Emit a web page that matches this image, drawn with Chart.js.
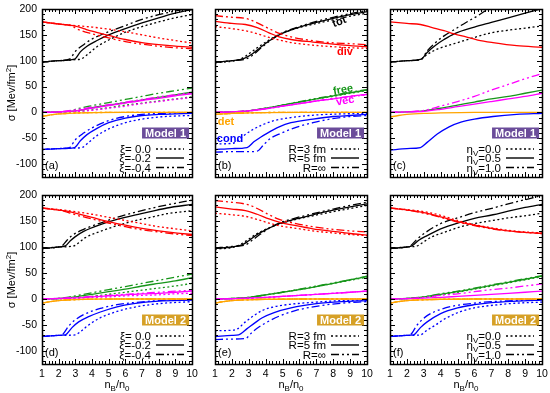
<!DOCTYPE html>
<html>
<head>
<title>Surface tension contributions</title>
<script src="https://cdn.jsdelivr.net/npm/chart.js"></script>
<style>
  body { margin: 0; background: #fff; font-family: "Liberation Sans", Arial, sans-serif; }
  #page { position: relative; width: 550px; height: 393px; overflow: hidden; }
  canvas { position: absolute; }
  .t { position: absolute; white-space: nowrap; font-size: 11px; line-height: 12px; color: #000; }
  .t sub { font-size: 8px; line-height: 0; vertical-align: -3px; }
  .t sup { font-size: 8px; line-height: 0; vertical-align: 4px; }
</style>
</head>
<body>
<div id="page"></div>
<script>
// axis ticks
const xTicks = [1, 2, 3, 4, 5, 6, 7, 8, 9, 10];
const yTicks = [-100, -50, 0, 50, 100, 150, 200];

// legend labels
const xiLabels = ['ξ= 0.0', 'ξ=-0.2', 'ξ=-0.4'];
const rLabels = ['R=3 fm', 'R=5 fm', 'R=∞'];
const etaLabels = ['η<sub>V</sub>=0.0', 'η<sub>V</sub>=0.5', 'η<sub>V</sub>=1.0'];

// each quantity: [dotted, solid, dash-dot-dot] lists of [nB/n0, sigma]
// (a) Model 1, xi
const aTot = [
  [[1,97],[2,100],[3,102],[3.4,104],[3.8,114],[4.3,127],[5,140],[6,155],[7,166],[8,175],[9,183],[10,189]],
  [[1,97],[2,100],[2.95,103],[3.3,117],[3.7,128],[4.3,139],[5,150],[6,162],[7,173],[8,183],[9,192],[10,199]],
  [[1,97],[2,100],[2.65,103],[3,118],[3.5,131],[4,142],[5,156],[6,168],[7,180],[8,189],[9,196],[10,202]]
];
const aDiv = [
  [[1,175],[2,171],[3,168],[4,165],[5,161],[6,156],[7,150],[8,144],[9,139],[10,134]],
  [[1,175],[2,171],[3,167],[3.5,162],[4,157],[5,149],[6,141],[7,135],[8,131],[9,128],[10,126]],
  [[1,175],[2,171],[2.7,168],[3.2,160],[4,152],[5,144],[6,137],[7,132],[8,128],[9,125],[10,123]]
];
const aFree = [
  [[1,0],[2,0.5],[3,1.5],[3.5,3],[4,5],[5,9],[6,14],[7,18],[8,22],[9,26],[10,30]],
  [[1,0],[2,1],[3,3],[4,9],[5,14],[6,19],[7,24],[8,29],[9,34],[10,39]],
  [[1,0],[2,1],[2.7,3],[3,6],[4,13],[5,19],[6,25],[7,31],[8,37],[9,42],[10,47]]
];
const aVec = [
  [[1,0],[2,0.5],[3,1.5],[4,4],[5,8],[6,12],[7,17],[8,21],[9,25],[10,29]],
  [[1,0],[2,1],[3,3],[4,8],[5,13],[6,18],[7,23],[8,27],[9,32],[10,36]],
  [[1,0],[2,1],[3,5],[4,10],[5,15],[6,20],[7,25],[8,30],[9,34],[10,38]]
];
const aDet = [
  [[1,-8],[1.5,-5],[2,-3],[3,-1.5],[4,-0.5],[6,0],[10,0]],
  [[1,-8],[1.5,-5],[2,-3],[3,-1.2],[4,-0.4],[6,0],[10,0]],
  [[1,-8],[1.5,-5],[2,-3],[3,-1],[4,-0.3],[6,0],[10,0]]
];
const aCond = [
  [[1,-72],[2,-70],[3,-69],[3.4,-68],[3.8,-58],[4.3,-45],[5,-32],[6,-20],[7,-13],[8,-9],[9,-7],[10,-6]],
  [[1,-72],[2,-70],[2.95,-68],[3.3,-55],[3.7,-43],[4.3,-31],[5,-20],[6,-11],[7,-6],[8,-4],[9,-3],[10,-2]],
  [[1,-72],[2,-70],[2.65,-68],[3,-53],[3.5,-40],[4,-30],[5,-16],[6,-8],[7,-4],[8,-2],[9,-1.5],[10,-1]]
];

// (b) Model 1, R
const bTot = [
  [[1,96],[2,99],[2.5,103],[3,113],[3.5,125],[4.2,140],[4.8,151],[6,164],[7,172],[8,179],[9,186],[10,192]],
  [[1,97],[2,100],[2.7,104],[3.2,113],[3.7,126],[4.2,138],[4.8,150],[6,165],[7,174],[8,182],[9,189],[10,195]],
  [[1,97],[2,100],[2.8,103],[3.2,110],[3.7,124],[4.2,137],[4.8,151],[6,166],[7,176],[8,184],[9,191],[10,197]]
];
const bDiv = [
  [[1,166],[2,162],[2.8,158],[3.5,152],[4.2,145],[4.8,140],[5.5,135],[6.8,130],[8,127],[9,125],[10,124]],
  [[1,176],[2,172],[2.8,170],[3.5,164],[4.2,154],[4.8,146],[5.5,141],[6.8,136],[8,132],[9,129],[10,127]],
  [[1,187],[2,184],[2.8,182],[3.5,173],[4.2,162],[4.8,153],[5.5,146],[6.5,140],[7.8,135],[9,133],[10,131]]
];
const bFree = [
  [[1,0],[2,1],[3,3],[4,8],[5,14],[6,20],[7,26],[8,31],[9,37],[10,42]],
  [[1,0],[2,1],[3,3],[4,8],[5,14],[6,20],[7,26],[8,32],[9,38],[10,43]],
  [[1,0],[2,1],[3,3],[4,8],[5,14],[6,21],[7,27],[8,33],[9,39],[10,44]]
];
const bVec = [
  [[1,0],[2,1],[3,3],[4,7],[5,12],[6,17],[7,22],[8,26],[9,30],[10,34]],
  [[1,0],[2,1],[3,3],[4,7],[5,12],[6,17],[7,22],[8,26],[9,31],[10,35]],
  [[1,0],[2,1],[3,3],[4,7],[5,12],[6,17],[7,22],[8,27],[9,31],[10,35]]
];
const bDet = [
  [[1,-4],[1.5,-3],[2,-2],[3,-1],[4,-0.3],[6,0],[10,0]],
  [[1,-4],[1.5,-3],[2,-2],[3,-1],[4,-0.3],[6,0],[10,0]],
  [[1,-4],[1.5,-3],[2,-2],[3,-1],[4,-0.3],[6,0],[10,0]]
];
const bCond = [
  [[1,-61],[2,-60],[2.2,-58],[2.7,-45],[3.2,-34],[3.8,-24],[4.5,-16],[5.5,-10],[7,-5],[8.5,-3],[10,-2]],
  [[1,-72],[2,-70],[2.9,-68],[3.3,-57],[3.7,-48],[4,-42],[4.8,-28],[5.5,-20],[6.8,-13],[8,-8],[9,-6],[10,-4]],
  [[1,-77],[2,-76],[3,-76],[3.5,-75],[3.9,-62],[4.3,-50],[4.8,-42],[5.8,-29],[6.8,-20],[7.8,-13],[9,-8],[10,-6]]
];

// (c) Model 1, eta_V
const cTot = [
  [[1,97],[2,100],[2.85,103],[3.2,112],[3.7,121],[4.2,127],[4.8,133],[6,145],[7,154],[8,159],[9,163],[10,167]],
  [[1,97],[2,100],[2.85,103],[3.2,116],[3.7,130],[4.2,141],[4.8,152],[6,165],[7,174],[8,183],[9,192],[10,201]],
  [[1,97],[2,100],[2.85,103],[3.2,119],[3.7,135],[4.2,148],[4.8,160],[5.5,174],[6.2,187],[6.8,200],[7.2,208]]
];
const cDiv = [null,
  [[1,175],[2,172],[2.8,170],[3.5,164],[4.2,158],[4.8,152],[5.5,146],[6.2,140],[7.1,135],[8.5,129],[10,126]],
  null
];
const cFree = [null,
  [[1,0],[2,1],[3,3],[4,8],[5,14],[6,20],[7,26],[8,31],[9,37],[10,43]],
  null
];
const cVec = [null,
  [[1,0],[2,1],[3,2],[4,6],[5,11],[6,16],[7,21],[8,26],[9,31],[10,37]],
  [[1,0],[2,1],[3,4],[4,12],[5,21],[6,31],[7,43],[8,54],[9,65],[10,75]]
];
const cDet = [null,
  [[1,-9],[1.5,-6],[2,-4],[3,-2],[4,-1],[6,0],[10,0]],
  null
];
const cCond = [null,
  [[1,-73],[2,-70],[2.8,-68],[3.2,-58],[3.8,-42],[4.5,-28],[5.2,-19],[6,-13],[7.1,-8],[8.5,-4],[10,-2]],
  null
];

// (d) Model 2, xi
const dTot = [
  [[1,97],[2,100],[2.9,102],[3.2,108],[3.6,118],[4.5,130],[5.5,141],[6.5,150],[7.5,157],[8.5,164],[10,170]],
  [[1,97],[2,100],[2.4,102],[2.7,112],[3,120],[3.5,130],[4.5,143],[5.5,153],[6.5,161],[7.5,168],[8.5,175],[10,182]],
  [[1,97],[2,100],[2.2,102],[2.5,113],[2.8,122],[3.5,134],[4.5,146],[5.5,157],[6.5,166],[7.5,174],[8.5,181],[10,190]]
];
const dDiv = [
  [[1,175],[2,172],[3,168],[4,163],[5,157],[6,151],[7,145],[8,139],[9,135],[10,131]],
  [[1,175],[2,171],[2.5,169],[3,165],[4,157],[5,149],[6,142],[7,136],[8,131],[9,127],[10,124]],
  [[1,175],[2,171],[2.3,169],[3,162],[4,154],[5,146],[6,139],[7,133],[8,129],[9,125],[10,122]]
];
const dFree = [
  [[1,0],[2,0.5],[3,2],[4,5],[5,9],[6,13],[7,17],[8,21],[9,25],[10,30]],
  [[1,0],[2,1],[3,4],[4,9],[5,14],[6,19],[7,25],[8,30],[9,35],[10,41]],
  [[1,0],[2,1],[2.5,3],[3,6],[4,12],[5,18],[6,24],[7,30],[8,36],[9,42],[10,48]]
];
const dVec = [
  [[1,0],[3,1],[4,3],[5,4],[6,6],[7,7],[8,8],[9,10],[10,11]],
  [[1,0],[3,2],[4,4],[5,6],[6,8],[7,10],[8,11],[9,13],[10,15]],
  [[1,0],[2.5,2],[4,5],[5,7],[6,9],[7,11],[8,13],[9,15],[10,17]]
];
const dDet = [
  [[1,-8],[1.5,-5],[2,-3],[3,-1.5],[4,-0.5],[6,0],[10,0]],
  [[1,-8],[1.5,-5],[2,-3],[3,-1.2],[4,-0.4],[6,0],[10,0]],
  [[1,-8],[1.5,-5],[2,-3],[3,-1],[4,-0.3],[6,0],[10,0]]
];
const dCond = [
  [[1,-72],[2,-70],[3,-69],[3.3,-63],[3.8,-50],[4.5,-36],[5.5,-24],[6.5,-16],[8,-9],[10,-5]],
  [[1,-72],[2,-70],[2.4,-69],[2.8,-55],[3.2,-44],[3.8,-34],[4.5,-25],[5.5,-15],[6.5,-9],[8,-4],[10,-2]],
  [[1,-72],[2,-70],[2.2,-69],[2.6,-52],[3,-40],[3.5,-30],[4.5,-18],[5.5,-11],[6.5,-7],[8,-3],[10,-1]]
];

// (e) Model 2, R
const eTot = [
  [[1,96],[2,99],[2.4,103],[2.9,113],[3.4,124],[4,134],[4.8,144],[5.8,153],[6.8,160],[8,168],[9,174],[10,180]],
  [[1,97],[2,100],[2.6,104],[3,112],[3.5,124],[4,133],[4.8,145],[5.8,154],[6.8,162],[8,171],[9,177],[10,183]],
  [[1,98],[2,101],[2.8,104],[3.2,113],[3.7,125],[4.2,136],[4.8,146],[5.8,156],[6.8,164],[8,173],[9,180],[10,186]]
];
const eDiv = [
  [[1,165],[2,162],[2.8,159],[3.5,153],[4.2,146],[4.8,141],[5.8,136],[6.8,131],[8,127],[9,124],[10,122]],
  [[1,177],[2,173],[2.8,170],[3.5,163],[4.2,154],[4.8,148],[5.8,141],[6.8,135],[8,130],[9,126],[10,123]],
  [[1,189],[2,186],[3,181],[3.5,174],[4.2,162],[4.8,153],[5.8,145],[6.8,139],[8,134],[9,131],[10,129]]
];
const eFree = [
  [[1,0],[2,1],[3,3],[4,8],[5,13],[6,18],[7,24],[8,30],[9,36],[10,42]],
  [[1,0],[2,1],[3,3],[4,8],[5,13],[6,18],[7,24],[8,30],[9,37],[10,43]],
  [[1,0],[2,1],[3,3],[4,8],[5,13],[6,19],[7,25],[8,31],[9,37],[10,44]]
];
const eVec = [
  [[1,0],[2,0.5],[3,1.5],[4,3],[5,5],[6,7],[7,9],[8,11],[9,13],[10,15]],
  [[1,0],[2,0.5],[3,1.5],[4,3],[5,5],[6,7],[7,9],[8,11],[9,13],[10,15]],
  [[1,0],[2,0.5],[3,1.5],[4,3],[5,5],[6,7],[7,9],[8,11],[9,13],[10,15]]
];
const eDet = [
  [[1,-8],[1.5,-5],[2,-3],[3,-1.5],[4,-0.5],[6,0],[10,0]],
  [[1,-8],[1.5,-5],[2,-3],[3,-1.5],[4,-0.5],[6,0],[10,0]],
  [[1,-8],[1.5,-5],[2,-3],[3,-1.5],[4,-0.5],[6,0],[10,0]]
];
const eCond = [
  [[1,-61],[2,-60],[2.3,-58],[2.8,-44],[3.3,-32],[3.8,-22],[4.5,-15],[5.5,-10],[7,-6],[8.5,-3],[10,-2]],
  [[1,-72],[2,-70],[2.4,-69],[2.9,-57],[3.4,-45],[3.8,-36],[4.5,-26],[5.5,-17],[7,-9],[8.5,-5],[10,-3]],
  [[1,-78],[2,-77],[2.8,-76],[3.2,-64],[3.6,-54],[4,-46],[4.8,-33],[5.8,-22],[7,-14],[8.5,-8],[10,-5]]
];

// (f) Model 2, eta_V
const fTot = [
  [[1,97],[2,100],[2.6,102],[3,110],[3.5,120],[4.2,128],[5.2,139],[6,145],[7.1,151],[8,156],[9,160],[10,165]],
  [[1,97],[2,100],[2.3,102],[2.7,113],[3.2,122],[4,135],[5.2,148],[6,155],[7.1,162],[8,169],[9,176],[10,182]],
  [[1,97],[2,100],[2.2,102],[2.6,115],[3.2,130],[4,145],[5.2,158],[6,166],[7.1,175],[8,183],[9,191],[10,199]]
];
const fDiv = [
  [[1,175],[2,172],[3,168],[4,161],[5,151],[6,143],[7,137],[8,132],[9,129],[10,127]],
  [[1,175],[2,171],[3,166],[4,158],[5,149],[6,142],[7,136],[8,131],[9,128],[10,126]],
  [[1,175],[2,171],[3,165],[4,157],[5,148],[6,141],[7,135],[8,131],[9,128],[10,126]]
];
const fFree = [
  [[1,0],[2,1],[3,3],[4,8],[5,13],[6,19],[7,25],[8,31],[9,37],[10,43]],
  [[1,0],[2,1],[3,4],[4,9],[5,14],[6,20],[7,26],[8,32],[9,38],[10,44]],
  [[1,0],[2,1],[3,4],[4,10],[5,15],[6,21],[7,27],[8,33],[9,39],[10,45]]
];
const fVec = [null,
  [[1,0],[2,0.5],[3,1.5],[4,3],[5,5],[6,7],[7,9],[8,11],[9,13],[10,15]],
  [[1,0],[2,1],[3,3],[4,7],[5,10],[6,14],[7,18],[8,21],[9,25],[10,29]]
];
const fDet = [
  [[1,-8],[1.5,-5],[2,-3],[3,-1.5],[4,-0.5],[6,0],[10,0]],
  [[1,-8],[1.5,-5],[2,-3],[3,-1.5],[4,-0.5],[6,0],[10,0]],
  [[1,-8],[1.5,-5],[2,-3],[3,-1.5],[4,-0.5],[6,0],[10,0]]
];
const fCond = [
  [[1,-72],[2,-70],[2.8,-69],[3.2,-60],[3.7,-50],[4.2,-39],[5.2,-24],[6,-17],[7.1,-12],[8.5,-8],[10,-6]],
  [[1,-72],[2,-70],[2.4,-69],[2.8,-55],[3.2,-44],[4,-28],[5,-17],[6,-11],[7,-7],[8.5,-4],[10,-2]],
  [[1,-72],[2,-70],[2.2,-69],[2.6,-50],[3.2,-32],[4,-20],[5,-12],[6,-8],[7,-5],[8.5,-3],[10,-1]]
];

const colors = { det: '#ffa500', vec: '#ff00ff', free: '#17961a', cond: '#0000ff', div: '#ff0000', tot: '#000000' };
const dashes = [[2, 2.5], [], [8, 3, 2, 3, 2, 3]];

const cols = [[42, 192], [215, 367], [390, 542]];
const rows = [[9, 177], [195, 364]];

const panels = [
  { tag: '(a)', col: 0, row: 0, model: 1, labels: xiLabels, q: { det: aDet, vec: aVec, free: aFree, cond: aCond, div: aDiv, tot: aTot } },
  { tag: '(b)', col: 1, row: 0, model: 1, labels: rLabels, q: { det: bDet, vec: bVec, free: bFree, cond: bCond, div: bDiv, tot: bTot } },
  { tag: '(c)', col: 2, row: 0, model: 1, labels: etaLabels, q: { det: cDet, vec: cVec, free: cFree, cond: cCond, div: cDiv, tot: cTot } },
  { tag: '(d)', col: 0, row: 1, model: 2, labels: xiLabels, q: { det: dDet, vec: dVec, free: dFree, cond: dCond, div: dDiv, tot: dTot } },
  { tag: '(e)', col: 1, row: 1, model: 2, labels: rLabels, q: { det: eDet, vec: eVec, free: eFree, cond: eCond, div: eDiv, tot: eTot } },
  { tag: '(f)', col: 2, row: 1, model: 2, labels: etaLabels, q: { det: fDet, vec: fVec, free: fFree, cond: fCond, div: fDiv, tot: fTot } }
];

const page = document.getElementById('page');
const tickFont = { family: '"Liberation Sans", Arial, sans-serif', size: 10.5 };

function addText(html, x, y, o = {}) {
  const d = document.createElement('div');
  d.className = 't';
  d.innerHTML = html;
  d.style.left = x + 'px';
  d.style.top = y + 'px';
  const ax = o.anchor === 'right' ? '-100%' : o.anchor === 'left' ? '0' : '-50%';
  d.style.transform = 'translate(' + ax + ',-50%)' + (o.rot ? ' rotate(' + o.rot + 'deg)' : '');
  if (o.color) d.style.color = o.color;
  if (o.bold) d.style.fontWeight = 'bold';
  if (o.size) d.style.fontSize = o.size + 'px';
  if (o.bg) { d.style.background = o.bg; d.style.padding = '0 3px'; d.style.lineHeight = '11px'; }
  page.appendChild(d);
  return d;
}

// frame with inward gnuplot-style ticks, plus legend line samples
const framePlugin = {
  id: 'frame',
  afterDatasetsDraw(chart) {
    const { ctx, chartArea: a, scales: { x, y } } = chart;
    ctx.save();
    ctx.strokeStyle = '#000';
    ctx.lineWidth = 1;
    ctx.beginPath();
    for (let v = 1; v <= 10.001; v += 0.2) {
      const px = Math.round(x.getPixelForValue(v)) + 0.5;
      const major = Math.abs(v - Math.round(v)) < 0.01;
      const len = major ? 5 : 3;
      ctx.moveTo(px, a.bottom); ctx.lineTo(px, a.bottom - len);
      ctx.moveTo(px, a.top); ctx.lineTo(px, a.top + len);
    }
    for (let v = -120; v <= 200; v += 10) {
      const py = Math.round(y.getPixelForValue(v)) + 0.5;
      const len = v % 50 === 0 ? 5 : 3;
      ctx.moveTo(a.left, py); ctx.lineTo(a.left + len, py);
      ctx.moveTo(a.right, py); ctx.lineTo(a.right - len, py);
    }
    ctx.stroke();
    ctx.lineWidth = 1.5;
    ctx.strokeRect(Math.round(a.left) + 0.5, Math.round(a.top) + 0.5, Math.round(a.right - a.left), Math.round(a.bottom - a.top));
    // legend samples
    const offs = [28, 19, 9.5];
    ctx.lineWidth = 1.4;
    offs.forEach((o, i) => {
      ctx.setLineDash(dashes[i]);
      ctx.beginPath();
      ctx.moveTo(a.right - 36, a.bottom - o);
      ctx.lineTo(a.right - 8, a.bottom - o);
      ctx.stroke();
    });
    ctx.restore();
  }
};

const padL = 40, padT = 6, padR = 6, padB = 22;

panels.forEach(p => {
  const [L, R] = cols[p.col];
  const [T, B] = rows[p.row];
  const cv = document.createElement('canvas');
  cv.width = R - L + padL + padR;
  cv.height = B - T + padT + padB;
  cv.style.left = (L - padL) + 'px';
  cv.style.top = (T - padT) + 'px';
  page.appendChild(cv);

  const datasets = [];
  ['det', 'vec', 'free', 'cond', 'div', 'tot'].forEach(k => {
    p.q[k].forEach((pts, i) => {
      if (!pts) return;
      datasets.push({
        data: pts.map(([x, y]) => ({ x, y })),
        borderColor: colors[k],
        borderWidth: 1.3,
        borderDash: dashes[i],
        pointRadius: 0,
        fill: false,
        cubicInterpolationMode: 'monotone'
      });
    });
  });

  new Chart(cv.getContext('2d'), {
    type: 'line',
    data: { datasets },
    options: {
      responsive: false,
      animation: false,
      events: [],
      layout: { padding: { left: 0, top: padT, right: padR, bottom: 0 } },
      plugins: { legend: { display: false }, tooltip: { enabled: false } },
      scales: {
        x: {
          type: 'linear', min: 1, max: 10,
          grid: { display: false, drawTicks: false },
          border: { display: false },
          ticks: { display: p.row === 1, stepSize: 1, padding: 4, autoSkip: false, maxRotation: 0, color: '#000', font: tickFont },
          afterBuildTicks: s => { s.ticks = xTicks.map(v => ({ value: v })); },
          afterFit: s => { s.height = padB; s.paddingLeft = 0; s.paddingRight = 0; }
        },
        y: {
          type: 'linear', min: -125, max: 200,
          grid: { display: false, drawTicks: false },
          border: { display: false },
          ticks: { display: p.col === 0, padding: 5, color: '#000', font: tickFont },
          afterBuildTicks: s => { s.ticks = yTicks.map(v => ({ value: v })); },
          afterFit: s => { s.width = padL; s.paddingTop = 0; s.paddingBottom = 0; }
        }
      }
    },
    plugins: [framePlugin]
  });

  // legend text, model tag, panel letter
  const offs = [28, 19, 9.5];
  p.labels.forEach((lab, i) => addText(lab, R - 41, B - offs[i], { anchor: 'right', size: 11.5 }));
  addText('Model ' + p.model, R - 3, B - 44, {
    anchor: 'right', bold: true, color: '#fff', size: 11,
    bg: p.model === 1 ? '#6b4c9a' : '#d6a026'
  });
  addText(p.tag, L + 3, B - 12, { anchor: 'left', size: 11 });
});

// curve labels in panel (b)
addText('tot', 339, 21, { bold: true, rot: -20 });
addText('div', 345, 51, { bold: true, color: colors.div });
addText('free', 343, 89, { bold: true, color: colors.free, rot: -10 });
addText('vec', 345, 100, { bold: true, color: colors.vec, rot: -10 });
addText('det', 226, 121, { bold: true, color: colors.det });
addText('cond', 230, 138, { bold: true, color: colors.cond });

// axis titles
addText('σ [Mev/fm<sup>2</sup>]', 11, 93, { rot: -90, size: 11 });
addText('σ [Mev/fm<sup>2</sup>]', 11, 280, { rot: -90, size: 11 });
cols.forEach(([L, R]) => addText('n<sub>B</sub>/n<sub>0</sub>', (L + R) / 2, 384, { size: 11 }));
</script>
</body>
</html>
